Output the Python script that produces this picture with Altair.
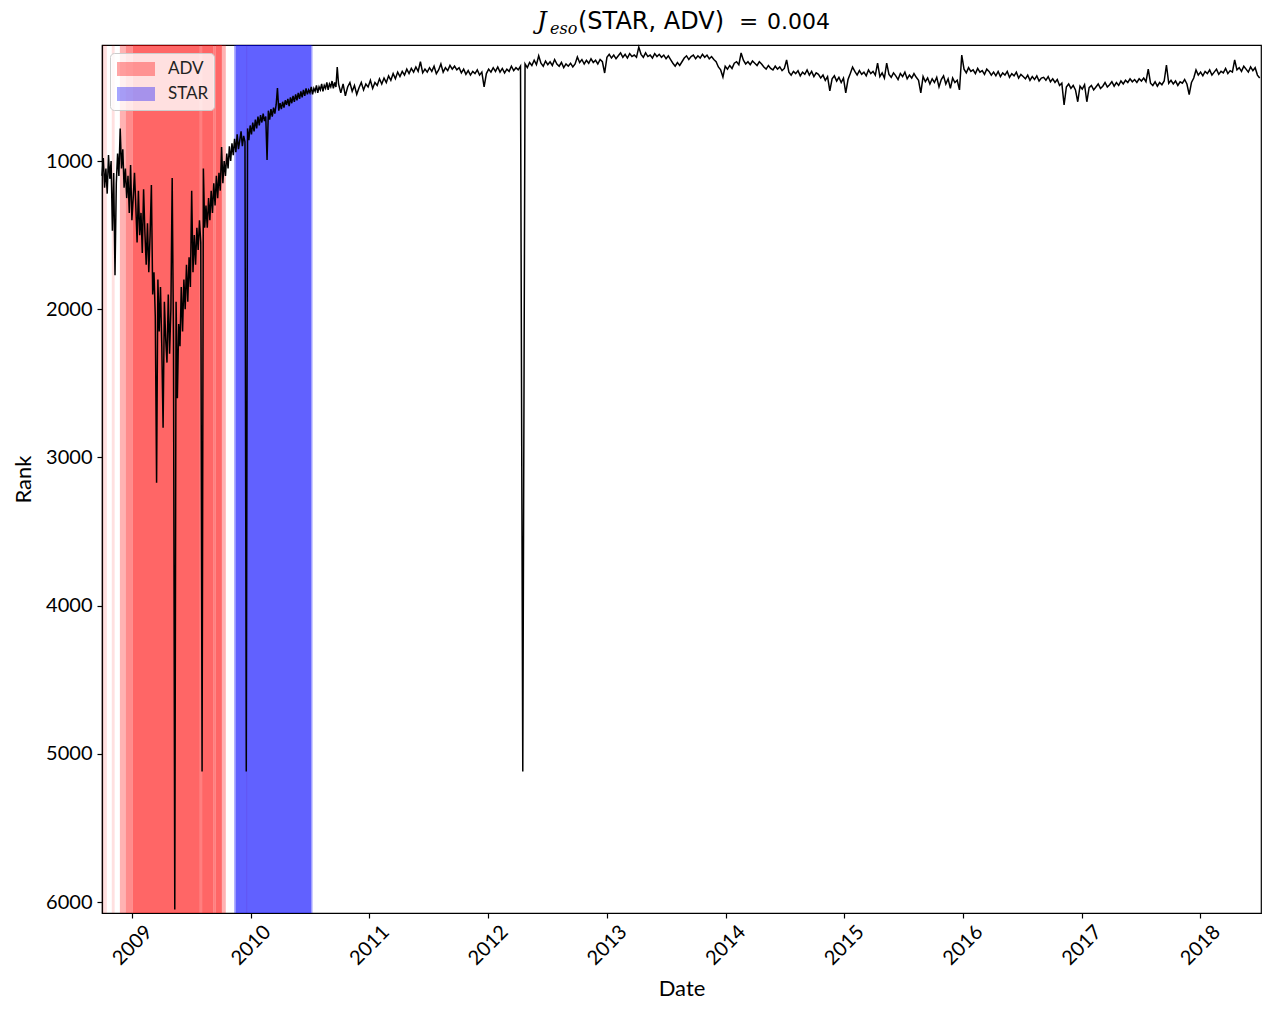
import altair as alt
import pandas as pd

# ---------------- data ----------------
# Rank series, part 1 (sampled every 4 days)
SEG1_START = "2008-09-30"
SEG1_STEP = "4D"
seg1_rank = [
    1100, 980, 1180, 1050, 1220, 960, 1120, 1000, 1470, 1080,
    1770, 1150, 950, 1100, 780, 1050, 920, 1180, 1050, 1250,
    1100, 1350, 1027, 1400, 1250, 1080, 1300, 1550, 1200, 1500,
    1350, 1620, 1190, 1480, 1700, 1420, 1750, 1500, 1162, 1900,
    1750, 2050, 3170, 1800, 2150, 1850, 2250, 2800, 1950, 2200,
    2360, 1900, 2300, 2000, 1115, 2200, 6050, 1950, 2600, 2100,
    2250, 1850, 2150, 1800, 2000, 1700, 1950, 1650, 1850, 1200,
    1750, 1500, 1700, 1450, 1600, 1400, 1550, 5120, 1050, 1450,
    1300, 1450, 1250, 1400, 1200, 1350, 1150, 1300, 1100, 1250,
    1080, 1200, 905, 1150, 1000, 1100, 950, 1050, 900, 1000,
    880, 960, 850, 940, 820, 920, 860, 800, 900, 830,
    870, 5120, 780, 860, 760, 820, 740, 800, 720, 780,
    700, 760, 690, 740, 680, 730, 700, 993, 660, 720,
    650, 700, 640, 680, 620, 507, 660, 610, 650, 600,
    640, 590, 620, 580, 630, 570, 610, 560, 600, 550,
    590, 540, 580, 530, 570, 520, 560, 510, 550, 520,
    540, 500, 550, 510, 530, 490, 540, 500, 520, 480,
    530, 490, 510, 470, 520, 480, 500, 460, 510, 470,
    500, 366, 480,
]

# Rank series, part 2 (sampled every 7 days)
SEG2_START = "2010-10-05"
SEG2_STEP = "7D"
seg2_rank = [
    540, 480, 560, 500, 470, 530, 490, 550, 505, 470,
    520, 480, 500, 455, 510, 470, 490, 445, 480, 440,
    470, 425, 455, 410, 445, 400, 430, 395, 420, 380,
    410, 375, 400, 365, 395, 330, 405, 380, 400, 370,
    395, 360, 410, 385, 345, 400, 370, 390, 355, 380,
    360, 385, 370, 405, 380, 415, 390, 420, 395, 410,
    385, 420, 400, 500, 410, 380, 400, 370, 395, 365,
    400, 375, 405, 380, 395, 360, 390, 370, 385, 360,
    5120, 345, 370, 335, 355, 320, 350, 290, 340, 360,
    325, 350, 330, 355, 315, 345, 360, 335, 370, 345,
    360, 340, 365, 345, 298, 335, 315, 345, 320, 340,
    310, 335, 320, 345, 315, 330, 406, 300, 280, 305,
    285, 310, 290, 270, 300, 280, 305, 275, 295, 285,
    300, 231, 280, 300, 270, 295, 285, 305, 275, 295,
    280, 300, 285, 310, 290, 315, 340, 360, 335, 355,
    330, 305, 290, 315, 295, 285, 310, 290, 305, 280,
    300, 285, 310, 295, 315, 330, 365, 385, 433, 360,
    380, 355, 375, 340, 330, 350, 271, 320, 345, 330,
    350, 325, 340, 355, 330, 345, 365, 380, 355, 375,
    385, 360, 380, 365, 390, 375, 318, 400, 420, 395,
    410, 390, 425, 400, 415, 385, 420, 395, 430, 405,
    415, 440, 420, 455, 430, 527, 445, 425, 460, 435,
    470, 440, 540, 450, 410, 366, 395, 420, 390, 415,
    400, 425, 385, 410, 395, 420, 339, 430, 405, 440,
    339, 415, 435, 405, 425, 450, 410, 430, 400, 445,
    420, 440, 410, 435, 455, 540, 430, 465, 440, 480,
    445, 470, 435, 500, 450, 425, 480, 445, 510, 440,
    470, 455, 520, 285, 380, 405, 370, 395, 385, 410,
    375, 400, 390, 415, 380, 395, 420, 400, 425, 395,
    430, 405, 420, 395, 435, 410, 425, 400, 440, 415,
    430, 445, 420, 455, 430, 450, 425, 460, 440, 435,
    455, 430, 465, 445, 470, 450, 490, 475, 622, 500,
    480, 510, 490, 520, 600, 495, 515, 485, 600, 505,
    490, 520, 500, 480, 510, 495, 470, 500, 485, 465,
    495, 470, 490, 460, 480, 455, 470, 445, 465, 450,
    470, 445, 460, 440, 465, 380, 475, 490, 465, 495,
    470, 485, 460, 352, 475, 455, 480, 460, 490, 465,
    475, 450, 480, 551, 470, 440, 386, 420, 400, 425,
    395, 410, 385, 420, 400, 380, 415, 395, 405, 375,
    410, 390, 400, 318, 385, 370, 395, 360, 380, 400,
    365, 390, 370, 420, 440,
]

# Flagged periods (shaded spans) and how densely they overlap
adv_start = ["2008-10-02", "2008-10-30", "2008-11-24", "2008-12-12", "2009-01-03",
             "2009-07-28", "2009-08-04", "2009-09-08", "2009-09-15", "2009-10-04",
             "2009-12-18"]
adv_end = ["2008-10-15", "2008-11-08", "2008-12-12", "2009-01-03", "2009-07-28",
           "2009-08-04", "2009-09-08", "2009-09-15", "2009-10-04", "2009-10-16",
           "2009-12-21"]
adv_density = [0.12, 0.12, 0.3, 0.45, 0.6, 0.5, 0.6, 0.5, 0.6, 0.3, 0.15]

star_start = ["2009-11-11", "2009-11-16", "2010-07-06"]
star_end = ["2009-11-16", "2010-07-06", "2010-07-10"]
star_density = [0.4, 0.62, 0.35]

period_names = ["ADV", "STAR"]
period_colors = ["#ff0000", "#0000ff"]

year_ticks = [2009, 2010, 2011, 2012, 2013, 2014, 2015, 2016, 2017, 2018]
rank_ticks = [1000, 2000, 3000, 4000, 5000, 6000]
rank_domain = [217, 6074]
date_domain = [(2008, 9, 30), (2018, 7, 7)]

# Title: J_eso(STAR, ADV) = 0.004
title_main = "J"
title_sub = "eso"
title_args = "(STAR, ADV)"
title_eq = "="
title_value = "0.004"

# ---------------- tables ----------------
d1 = pd.date_range(SEG1_START, periods=len(seg1_rank), freq=SEG1_STEP)
d2 = pd.date_range(SEG2_START, periods=len(seg2_rank), freq=SEG2_STEP)
series = pd.DataFrame({
    "date": list(d1.strftime("%Y-%m-%d")) + list(d2.strftime("%Y-%m-%d")),
    "rank": seg1_rank + seg2_rank,
})

spans = pd.DataFrame({
    "start": adv_start + star_start,
    "end": adv_end + star_end,
    "period": ["ADV"] * len(adv_start) + ["STAR"] * len(star_start),
    "density": adv_density + star_density,
})

FONT = "Lato"

xscale = alt.Scale(
    type="utc",
    domain=[alt.DateTime(year=y, month=m, date=d, utc=True) for (y, m, d) in date_domain],
    nice=False,
)
xaxis = alt.Axis(
    values=[alt.DateTime(year=y, month=1, date=1, utc=True) for y in year_ticks],
    format="%Y",
    labelAngle=315,
    labelAlign="center",
    labelBaseline="middle",
    labelPadding=27,
    titlePadding=10,
)
yscale = alt.Scale(domain=rank_domain, reverse=True, zero=False, nice=False)
yaxis = alt.Axis(values=rank_ticks, format="d", labelPadding=5, titlePadding=10)

rects = alt.Chart(spans).mark_rect().encode(
    x=alt.X("start:T", scale=xscale, axis=xaxis, title="Date"),
    x2="end:T",
    color=alt.Color(
        "period:N",
        scale=alt.Scale(domain=period_names, range=period_colors),
        legend=alt.Legend(
            title=None,
            orient="top-left",
            offset=8,
            symbolType="M-1,-0.37H1V0.37H-1Z",
            symbolSize=1444,
            symbolOpacity=0.35,
            symbolStrokeWidth=0,
            symbolOffset=2,
            clipHeight=22,
            rowPadding=3,
            labelFont=FONT,
            labelFontSize=17,
            labelColor="#222222",
            labelOffset=13,
            padding=5,
            fillColor="rgba(255,255,255,0.8)",
            strokeColor="#cccccc",
            cornerRadius=4,
        ),
    ),
    opacity=alt.Opacity("density:Q", scale=None, legend=None),
)

line = alt.Chart(series).mark_line(color="black", strokeWidth=1.5).encode(
    x=alt.X("date:T", scale=xscale, axis=xaxis, title="Date"),
    y=alt.Y("rank:Q", scale=yscale, axis=yaxis, title="Rank"),
)


def title_piece(text, font, size, x, y, italic=False):
    kw = dict(font=font, fontSize=size, align="left", baseline="alphabetic", color="black")
    if italic:
        kw["fontStyle"] = "italic"
    return alt.Chart(pd.DataFrame({"t": [text]})).mark_text(**kw).encode(
        text="t:N", x=alt.value(x), y=alt.value(y)
    )


t1 = title_piece(title_main, "DejaVu Serif", 24, 435, -16, italic=True)
t2 = title_piece(title_sub, "DejaVu Serif", 16, 448, -11, italic=True)
t3 = title_piece(title_args, "DejaVu Sans", 24, 476, -16)
t4 = title_piece(title_eq, "DejaVu Serif", 23, 637, -16)
t5 = title_piece(title_value, "DejaVu Sans", 22, 665, -16)

chart = alt.layer(rects, line, t1, t2, t3, t4, t5).properties(
    width=1159,
    height=868,
    padding={"left": 4, "top": 2, "right": 5, "bottom": 5},
    background="white",
).configure_view(
    stroke="black", strokeWidth=1.2
).configure_axis(
    grid=False,
    labelFont=FONT,
    labelFontSize=20,
    labelColor="black",
    titleFont=FONT,
    titleFontSize=22,
    titleFontWeight="normal",
    titleColor="black",
    domainColor="black",
    domainWidth=1.2,
    tickColor="black",
    tickWidth=1.2,
    tickSize=5,
)

chart.save("out.html", embed_options={"renderer": "svg", "actions": False})
